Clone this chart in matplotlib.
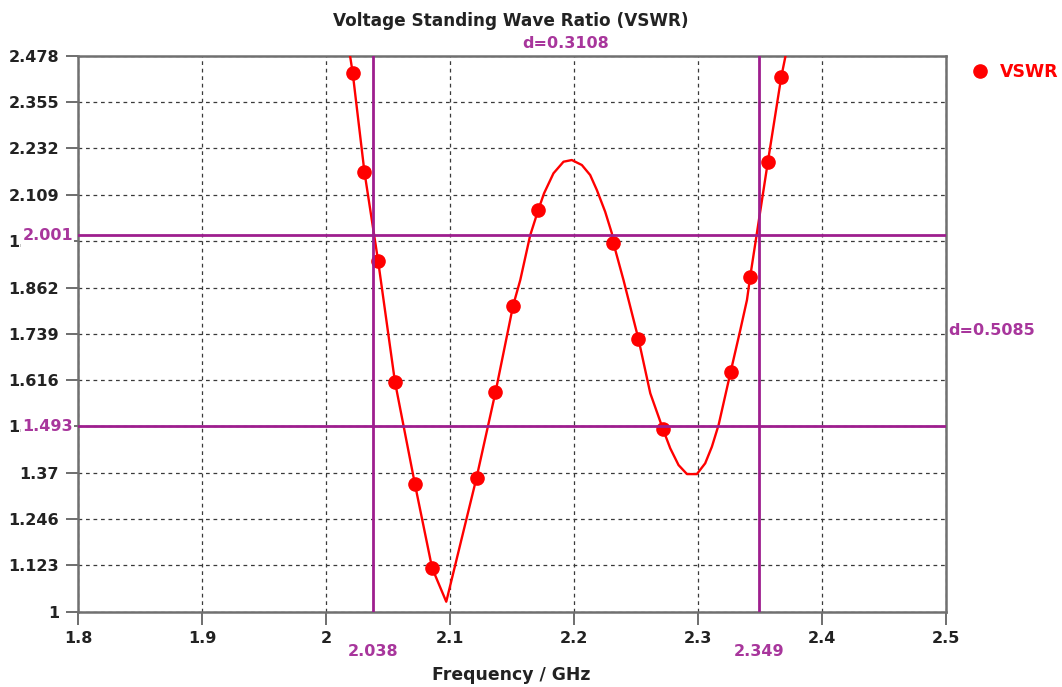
import matplotlib
matplotlib.use('Agg')
import matplotlib.pyplot as plt
from matplotlib.patches import Rectangle

plt.rcParams['font.family'] = ['DejaVu Sans']

# ---- data ----
curve_x = [2.0192, 2.0213, 2.0308, 2.0418, 2.0554, 2.0715, 2.0854, 2.0968,
           2.1212, 2.1365, 2.1507, 2.1565, 2.1645, 2.1710, 2.1757, 2.1833,
           2.1914, 2.1981, 2.2062, 2.2129, 2.2183, 2.2250, 2.2304, 2.2316,
           2.2398, 2.2518, 2.2614, 2.2717, 2.2775, 2.2842, 2.2910, 2.2990,
           2.3057, 2.3111, 2.3165, 2.3262, 2.3340, 2.3394, 2.3420, 2.3562,
           2.3671, 2.3705]
curve_y = [2.478, 2.4335, 2.1694, 1.9335, 1.6117, 1.3396, 1.1160, 1.0266,
           1.3560, 1.5835, 1.8138, 1.8820, 2.0010, 2.0683, 2.1128, 2.1660,
           2.1968, 2.2013, 2.1880, 2.1614, 2.1215, 2.0638, 2.0064, 1.9810,
           1.8820, 1.7260, 1.5809, 1.4850, 1.4346, 1.3900, 1.3660, 1.3660,
           1.3947, 1.4388, 1.4965, 1.6375, 1.7490, 1.8290, 1.8910, 2.1952,
           2.4229, 2.478]

marker_x = [2.0213, 2.0308, 2.0418, 2.0554, 2.0715, 2.0854, 2.1212, 2.1365,
            2.1507, 2.1710, 2.2316, 2.2518, 2.2717, 2.3262, 2.3420, 2.3562, 2.3671]
marker_y = [2.4335, 2.1694, 1.9335, 1.6117, 1.3396, 1.1160, 1.3560, 1.5835,
            1.8138, 2.0683, 1.9810, 1.7260, 1.4850, 1.6375, 1.8910, 2.1952, 2.4229]

x_ticks = [1.8, 1.9, 2.0, 2.1, 2.2, 2.3, 2.4, 2.5]
x_tick_labels = ['1.8', '1.9', '2', '2.1', '2.2', '2.3', '2.4', '2.5']
y_tick_labels = ['1', '1.123', '1.246', '1.37', '1.493', '1.616', '1.739',
                 '1.862', '1.985', '2.109', '2.232', '2.355', '2.478']

cursor_x = [2.038, 2.349]
cursor_y = [2.001, 1.493]
delta_x_label = 'd=0.3108'
delta_y_label = 'd=0.5085'

title = 'Voltage Standing Wave Ratio (VSWR)'
xlabel = 'Frequency / GHz'
series_name = 'VSWR'

# ---- style ----
RED = '#FF0000'
PURPLE = '#9E1E8E'
PURPLE_TXT = '#A8369C'
FS = 11.5

fig = plt.figure(figsize=(10.62, 6.87), dpi=100)
ax = fig.add_axes([0.0738, 0.1096, 0.8170, 0.8089])

ax.plot(curve_x, curve_y, color=RED, lw=1.7, zorder=3, solid_joinstyle='round')
ax.plot(marker_x, marker_y, 'o', color=RED, ms=9.5, zorder=4, label=series_name)

ax.set_xlim(1.8, 2.5)
ax.set_ylim(1.0, 2.478)
ax.set_xticks(x_ticks)
ax.set_xticklabels(x_tick_labels)
y_ticks = [float(t) for t in y_tick_labels]
ax.set_yticks(y_ticks)
ax.set_yticklabels(y_tick_labels)

ax.grid(True, linestyle=(0, (3, 3)), color='#3a3a3a', lw=0.9, zorder=1)
ax.tick_params(direction='out', length=9, width=1.2, color='#555555', pad=5,
               labelsize=FS, labelcolor='#222222')
for lab in ax.get_xticklabels() + ax.get_yticklabels():
    lab.set_fontweight('bold')
for sp in ax.spines.values():
    sp.set_color('#707070')
    sp.set_linewidth(1.8)

# cursors
px_y = (2.478 - 1.0) / 555.7
for cx in cursor_x:
    ax.axvline(cx, color=PURPLE, lw=2, zorder=5)
    ax.text(cx, -0.0725, f'{cx:.3f}', transform=ax.get_xaxis_transform(),
            ha='center', va='center', color=PURPLE_TXT, fontsize=FS,
            fontweight='bold', clip_on=False)
for cy in cursor_y:
    ax.axhline(cy, color=PURPLE, lw=2, zorder=5)
    # white patch hiding the tick label underneath the cursor value
    ax.add_patch(Rectangle((-0.0665, cy - 16 * px_y), 0.062, 23 * px_y,
                           transform=ax.get_yaxis_transform(), clip_on=False,
                           facecolor='white', edgecolor='none', zorder=8))
    ax.text(-0.006, cy, f'{cy:.3f}', transform=ax.get_yaxis_transform(),
            ha='right', va='center', color=PURPLE_TXT, fontsize=FS,
            fontweight='bold', clip_on=False, zorder=10)

ax.text(sum(cursor_x) / 2, 1.0216, delta_x_label, transform=ax.get_xaxis_transform(),
        ha='center', va='center', color=PURPLE_TXT, fontsize=FS,
        fontweight='bold', clip_on=False)
ax.text(1.0023, sum(cursor_y) / 2, delta_y_label, transform=ax.get_yaxis_transform(),
        ha='left', va='center', color=PURPLE_TXT, fontsize=FS,
        fontweight='bold', clip_on=False)

fig.text(511 / 1062, 1 - 21 / 687, title, ha='center', va='center',
         fontsize=12.2, fontweight='bold', color='#222222')
fig.text(511 / 1062, 1 - 675 / 687, xlabel, ha='center', va='center',
         fontsize=12.4, fontweight='bold', color='#222222')

leg = fig.legend(loc='center left', bbox_to_anchor=(970 / 1062, 1 - 72 / 687),
                 frameon=False, handlelength=1.2, handletextpad=0.5,
                 borderpad=0, borderaxespad=0, labelcolor=RED,
                 prop={'weight': 'bold', 'size': 12.5})

fig.savefig('out.png', dpi=100)
